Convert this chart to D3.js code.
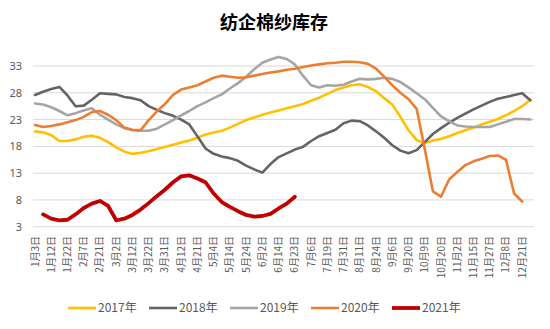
<!DOCTYPE html>
<html>
<head>
<meta charset="utf-8">
<script src="https://cdn.jsdelivr.net/npm/d3@7/dist/d3.min.js"></script>
<style>
  html, body { margin: 0; padding: 0; background: #fff; }
  svg { display: block; }
</style>
</head>
<body>
<svg id="chart" width="550" height="329"></svg>
<script>
const title = "纺企棉纱库存";
const tickLabels = ["1月3日","1月12日","1月22日","2月7日","2月21日","3月2日","3月12日","3月22日","3月31日","4月12日","4月21日","5月4日","5月14日","5月24日","6月2日","6月14日","6月23日","7月6日","7月19日","7月31日","8月11日","8月24日","9月6日","9月20日","10月9日","10月20日","11月2日","11月15日","11月27日","12月8日","12月21日"];
const yTicks = [3, 8, 13, 18, 23, 28, 33];
const seriesNames = ["2017年","2018年","2019年","2020年","2021年"];
const seriesColors = ["#FFC000","#646464","#A5A5A5","#ED7D31","#C00000"];

const s2017 = [20.8,20.6,20.1,19.0,19.0,19.3,19.8,20.0,19.6,18.8,17.8,17.0,16.6,16.8,17.1,17.5,17.9,18.3,18.7,19.1,19.6,20.2,20.6,20.9,21.5,22.2,22.9,23.4,23.9,24.3,24.7,25.1,25.5,25.9,26.5,27.1,27.8,28.5,29.0,29.4,29.6,29.1,28.3,27.0,25.8,23.5,21.0,19.2,18.6,19.1,19.4,19.9,20.5,21.0,21.5,22.1,22.6,23.1,23.8,24.6,25.5,26.7];
const s2018 = [27.6,28.2,28.7,29.1,27.5,25.5,25.6,26.7,27.9,27.8,27.7,27.2,27.0,26.6,25.5,24.8,24.2,23.7,23.0,22.1,19.9,17.6,16.6,16.1,15.8,15.3,14.4,13.7,13.1,14.7,16.0,16.7,17.4,17.9,19.0,19.9,20.5,21.1,22.3,22.8,22.7,21.9,20.8,19.6,18.2,17.2,16.7,17.3,18.8,20.3,21.4,22.4,23.3,24.1,24.9,25.6,26.3,26.9,27.2,27.6,27.9,26.6];
const s2019 = [26.0,25.8,25.3,24.6,23.8,24.2,24.7,25.1,23.9,23.0,22.1,21.4,21.0,20.9,20.9,21.3,22.1,22.9,23.8,24.6,25.5,26.2,27.0,27.7,28.8,29.8,31.0,32.4,33.6,34.2,34.7,34.3,33.3,31.2,29.4,29.0,29.4,29.3,29.5,30.1,30.6,30.5,30.6,30.8,30.6,30.0,29.0,27.9,26.8,25.2,23.6,22.7,21.9,21.7,21.6,21.6,21.6,22.1,22.6,23.1,23.1,23.0];
const s2020 = [22.0,21.6,21.8,22.1,22.5,22.9,23.5,24.4,24.6,23.9,22.9,21.5,21.1,21.0,22.9,24.5,25.9,27.6,28.6,29.0,29.4,30.1,30.8,31.2,31.0,30.8,30.9,31.2,31.5,31.8,32.0,32.3,32.5,32.8,33.1,33.3,33.5,33.6,33.8,33.8,33.7,33.4,32.5,31.0,29.4,28.0,26.8,25.0,17.5,9.6,8.6,11.8,13.2,14.5,15.2,15.7,16.2,16.3,15.5,9.2,7.7,null];
const s2021 = [null,5.3,4.5,4.2,4.3,5.3,6.5,7.3,7.8,6.9,4.2,4.5,5.2,6.2,7.4,8.7,9.9,11.3,12.4,12.6,12.0,11.3,9.2,7.6,6.7,5.9,5.2,4.9,5.0,5.4,6.4,7.3,8.6];

const seriesValues = [s2017, s2018, s2019, s2020, s2021];
const seriesWidths = [2.6, 2.6, 2.6, 2.6, 3.8];

const svg = d3.select("#chart");
const nCat = 62;
const x = d3.scaleLinear().domain([0, nCat - 1]).range([35, 35 + (nCat - 1) * 8.12]);
const y = d3.scaleLinear().domain([3, 33]).range([226.7, 66]);
const plotLeft = 33, plotRight = 534;

svg.append("text")
  .attr("x", 274).attr("y", 29)
  .attr("text-anchor", "middle")
  .attr("font-family", "'Noto Sans CJK SC', sans-serif")
  .attr("font-size", 18).attr("font-weight", "bold")
  .attr("fill", "#000")
  .text(title);

// gridlines
svg.append("g").selectAll("line").data(yTicks).join("line")
  .attr("x1", plotLeft).attr("x2", plotRight)
  .attr("y1", d => y(d)).attr("y2", d => y(d))
  .attr("stroke", "#D9D9D9").attr("stroke-width", 1);

// y labels
svg.append("g").selectAll("text").data(yTicks).join("text")
  .attr("x", 22).attr("y", d => y(d) + 4)
  .attr("text-anchor", "end")
  .attr("font-family", "'Noto Sans', sans-serif")
  .attr("font-size", 11).attr("fill", "#595959")
  .text(d => d);

// x labels (every second category)
svg.append("g").selectAll("text").data(tickLabels).join("text")
  .attr("transform", (d, i) => `translate(${x(i * 2) + 3.5},236) rotate(-90)`)
  .attr("text-anchor", "end")
  .attr("font-family", "'Noto Sans CJK SC', sans-serif")
  .attr("font-size", 10).attr("fill", "#595959")
  .text(d => d);

// lines
const line = d3.line()
  .defined(d => d != null)
  .x((d, i) => x(i))
  .y(d => y(d))
  .curve(d3.curveLinear);

seriesValues.forEach((vals, k) => {
  svg.append("path")
    .datum(vals)
    .attr("fill", "none")
    .attr("stroke", seriesColors[k])
    .attr("stroke-width", seriesWidths[k])
    .attr("stroke-linejoin", "round")
    .attr("stroke-linecap", "round")
    .attr("d", line);
});

// legend
const legendX = [68, 149, 230, 311, 392];
const lg = svg.append("g");
seriesNames.forEach((name, k) => {
  lg.append("line")
    .attr("x1", legendX[k]).attr("x2", legendX[k] + 28)
    .attr("y1", 308).attr("y2", 308)
    .attr("stroke", seriesColors[k])
    .attr("stroke-width", seriesWidths[k]);
  lg.append("text")
    .attr("x", legendX[k] + 30).attr("y", 312)
    .attr("font-family", "'Noto Sans CJK SC', sans-serif")
    .attr("font-size", 12).attr("fill", "#595959")
    .text(name);
});
</script>
</body>
</html>
